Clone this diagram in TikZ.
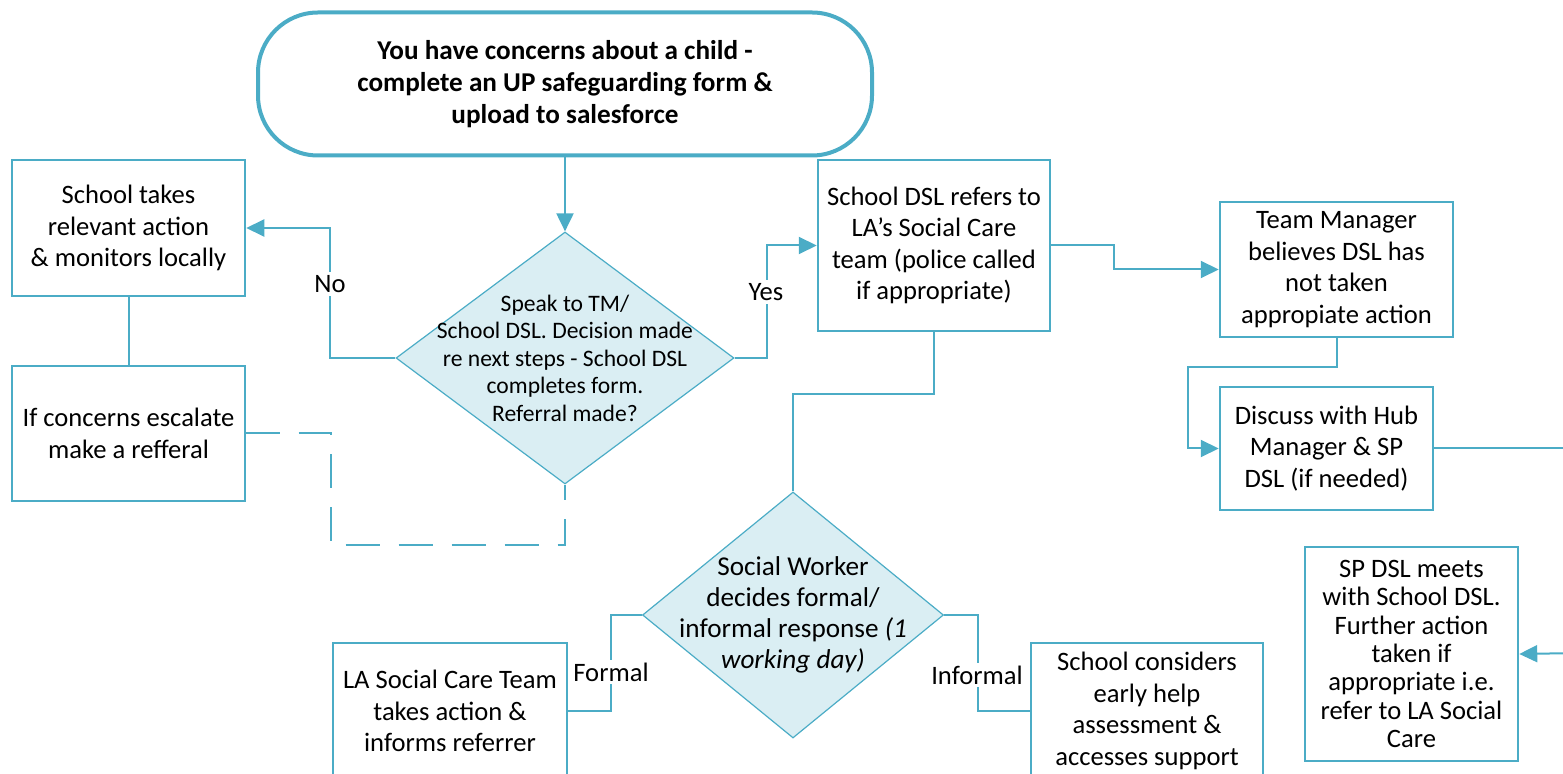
\documentclass[tikz,border=0pt]{standalone}
\usepackage{fontspec}
\setmainfont{Carlito}
\usepackage{xcolor}
\usepackage{tikz}
\usetikzlibrary{
    positioning,
    arrows.meta,
    shapes.geometric,
}
\definecolor{flowblue}{HTML}{4BACC6}
\definecolor{flowfill}{HTML}{DAEEF3}
\tikzset{
    % Node styles
    box/.style={rectangle, draw=flowblue, line width=1.25pt, align=center,
                inner sep=2pt, font=\fontsize{13.3}{15.75}\selectfont},
    thin box/.style={box, line width=0.6pt},
    terminal/.style={rectangle, rounded corners=30pt, draw=flowblue, line width=2pt,
                     align=center, minimum width=307pt, minimum height=71.5pt,
                     font=\bfseries\fontsize{13.6}{16}\selectfont},
    decision/.style={diamond, draw=flowblue, fill=flowfill, line width=0.6pt, inner sep=0pt},
    dtext/.style={align=center, inner sep=0pt},
    % Arrow styles
    link/.style={draw=flowblue, line width=1pt},
    arrow/.style={link, -{Triangle[length=9pt, width=8.5pt]}},
    maybe link/.style={link, dash pattern=on 17pt off 9.5pt},
    % Annotation styles
    annot/.style={fill=white, inner sep=1.5pt, font=\fontsize{13.3}{15.75}\selectfont},
}

\begin{document}
\begin{tikzpicture}[x=0.5pt, y=-0.5pt]
    \useasboundingbox (0,0) rectangle (1563,774);
    \clip (0,0) rectangle (1563,774);

    % Start of the procedure
    \node[terminal] (concern) at (565,84) {You have concerns about a child -\\complete an UP safeguarding form \&\\upload to salesforce};

    % First decision
    \node[decision, minimum width=169pt, minimum height=126pt] (speak) at (565,358) {};
    \node[dtext, font=\fontsize{11.8}{13.75}\selectfont] (speaktxt) at (speak.center)
        {Speak to TM/\\School DSL. Decision made\\re next steps - School DSL\\completes form.\\Referral made?};

    % No referral
    \node[box, minimum width=116.5pt, minimum height=68pt] (local) at (128.5,228)
        {School takes\\relevant action\\\& monitors locally};
    \node[thin box, minimum width=116.5pt, minimum height=67.5pt] (escalate) at (128.5,433.5)
        {If concerns escalate\\make a refferal};

    % Referral made
    \node[box, minimum width=116pt, minimum height=85.5pt] (refer) at (934,245.5)
        {School DSL refers to\\LA's Social Care\\team (police called\\if appropriate)};
    \node[box, minimum width=116.5pt, minimum height=67.5pt] (manager) at (1336.5,269.5)
        {Team Manager\\believes DSL has\\not taken\\appropiate action};
    \node[box, minimum width=106.5pt, minimum height=61.5pt] (hub) at (1326.5,448.5)
        {Discuss with Hub\\Manager \& SP\\DSL (if needed)};
    \node[box, minimum width=106.5pt, minimum height=107pt,
          font=\fontsize{13.3}{14.15}\selectfont] (spdsl) at (1411.5,654)
        {SP DSL meets\\with School DSL.\\Further action\\taken if\\appropriate i.e.\\refer to LA Social\\Care};

    % Second decision
    \node[decision, minimum width=150.5pt, minimum height=123pt] (social) at (793,615) {};
    \node[dtext, font=\fontsize{13.6}{15.5}\selectfont] (socialtxt) at (social.center)
        {Social Worker\\decides formal/\\informal response \textit{(1}\\\textit{working day)}};
    \node[thin box, minimum width=117pt, minimum height=68pt] (formal) at (450,711)
        {LA Social Care Team\\takes action \&\\informs referrer};
    \node[thin box, minimum width=116pt, minimum height=68pt] (informal) at (1147,711)
        {School considers\\early help\\assessment \&\\accesses support};

    % Connectors
    \draw[arrow] (concern.south) -- (speak.north);
    \draw[arrow] (speak.west) -- ++(-65,0) |- (local.east);
    \draw[arrow] (speak.east) -- ++(32,0) |- (refer.west);
    \draw[link] (local.south) -- (escalate.north);
    \draw[maybe link] (escalate.east) -| ++(85,112) -| (speak.south);
    \draw[arrow] (refer.east) -- ++(63,0) |- (manager.west);
    \draw[arrow] (manager.south) |- (1188,367) |- (hub.west);
    \coordinate (offright) at (1580,448.5);
    \coordinate (backin) at (1580,653);
    \draw[link] (hub.east) -- (offright);
    \draw[arrow] (backin) -- (spdsl.east);
    \draw[link] (refer.south) -- ++(0,62) -| (social.north);
    \draw[link] (social.west) -- ++(-31,0) |- (formal.east);
    \draw[link] (social.east) -- ++(34,0) |- (informal.west);

    % Branch labels
    \node[annot] (no) at (330,284) {No};
    \node[annot] (yes) at (766,292) {Yes};
    \node[annot] (fml) at (611,672) {Formal};
    \node[annot] (infml) at (977,675) {Informal};
\end{tikzpicture}
\end{document}
